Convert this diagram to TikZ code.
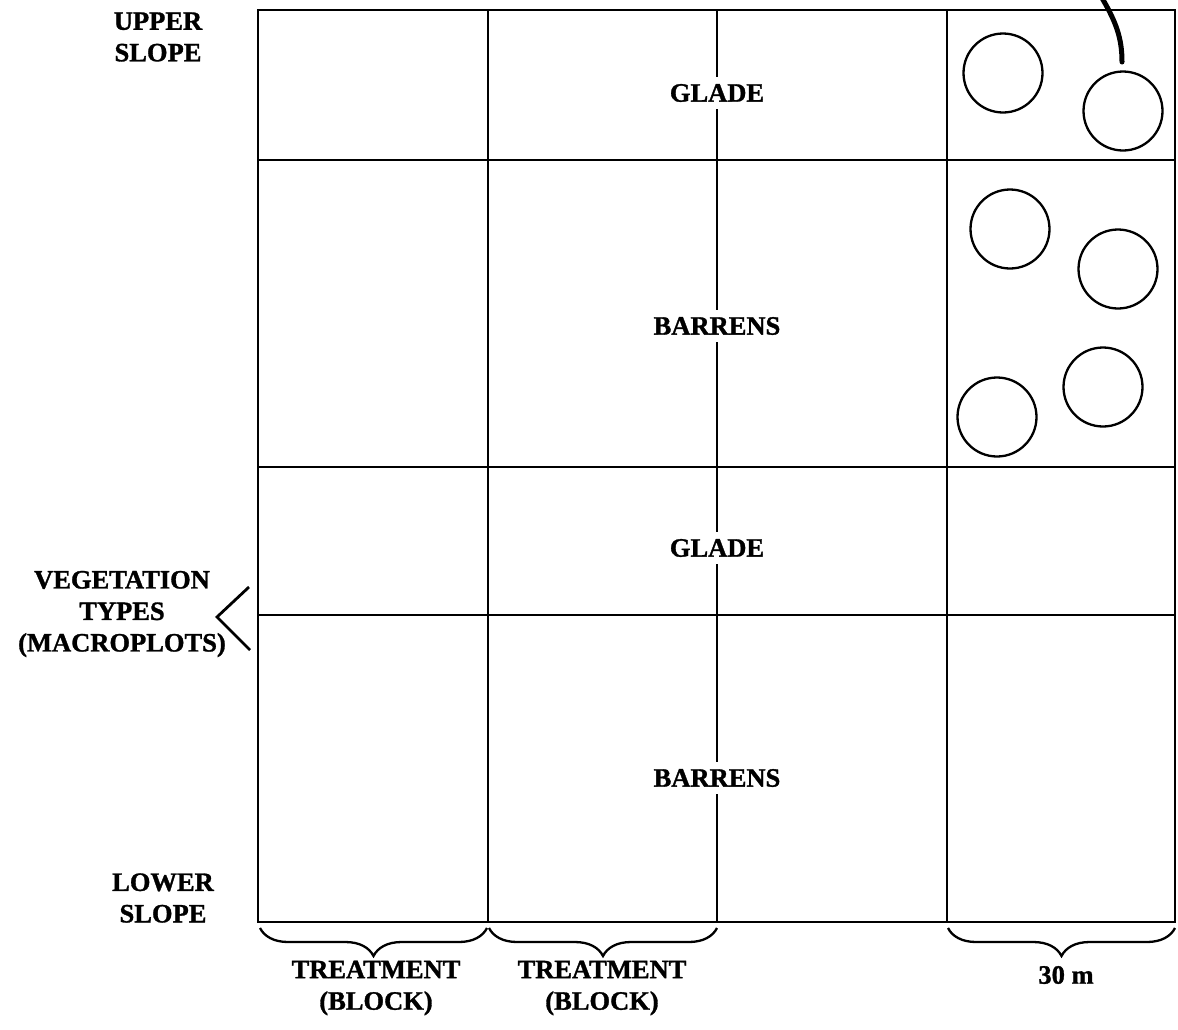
\documentclass[tikz,border=0pt]{standalone}
\usepackage{fontspec}
\setmainfont{Liberation Serif}
\newfontfamily\heavyfont[FakeBold=1.2]{Liberation Serif Bold}
\usetikzlibrary{decorations.pathreplacing}
\begin{document}
\begin{tikzpicture}[x=1pt,y=-1pt,
  gridline/.style={line width=2.8pt},
  plotring/.style={line width=2.3pt},
  lbl/.style={font=\fontsize{26.5}{31.5}\selectfont\heavyfont, align=center, inner sep=0pt},
  zone/.style={lbl, fill=white, inner xsep=3pt, inner ysep=7pt},
  spanbrace/.style={line width=2.3pt, decorate, decoration={brace, mirror, amplitude=28pt}}]
\useasboundingbox (0,0) rectangle (1178,1029);
\fill[white] (0,0) rectangle (1178,1029);

% outer frame and inner lines of the study plot
\draw[gridline] (258,10) rectangle (1175,922);
\foreach \xx in {488,717,947} \draw[gridline] (\xx,10) -- (\xx,922);
\foreach \yy in {160,467,615} \draw[gridline] (258,\yy) -- (1175,\yy);

% subplots (circles) in the right column
\foreach \cx/\cy in {1003/73, 1123/111, 1010/229, 1118/269, 1103/387, 997/417}
  \draw[plotring] (\cx,\cy) circle[radius=39.5];

% pointer entering from the top edge
\coordinate (ptrA) at (1102,-2);
\coordinate (ptrB) at (1122,62);
\draw[line width=5pt, line cap=round] (ptrA) .. controls (1116,22) and (1122,38) .. (ptrB);

% vegetation type labels on the middle line
\node[zone] (g1) at (717,93) {GLADE};
\node[zone] (b1) at (717,326) {BARRENS};
\node[zone] (g2) at (717,548) {GLADE};
\node[zone] (b2) at (717,778) {BARRENS};

% slope labels
\node[lbl] (up) at (158,37) {UPPER\\SLOPE};
\node[lbl] (low) at (163,898) {LOWER\\SLOPE};

% macroplot label and its angle
\node[lbl] (veg) at (122,614) {VEGETATION\\TYPES\\(MACROPLOTS)};
\coordinate (angA) at (249,587);
\coordinate (angB) at (217,617);
\coordinate (angC) at (250,650);
\draw[line width=2.8pt] (angA) -- (angB) -- (angC);

% braces under the plot
\coordinate (br1a) at (260,928);
\coordinate (br1b) at (487,928);
\coordinate (br2a) at (489,928);
\coordinate (br2b) at (717,928);
\coordinate (br3a) at (948,928);
\coordinate (br3b) at (1175,928);
\draw[spanbrace] (br1a) -- (br1b);
\draw[spanbrace] (br2a) -- (br2b);
\draw[spanbrace] (br3a) -- (br3b);

\node[lbl] (t1) at (376,988) {TREATMENT\\(BLOCK)};
\node[lbl] (t2) at (602,988) {TREATMENT\\(BLOCK)};
\node[lbl] (dist) at (1066,975) {30 m};
\end{tikzpicture}
\end{document}
